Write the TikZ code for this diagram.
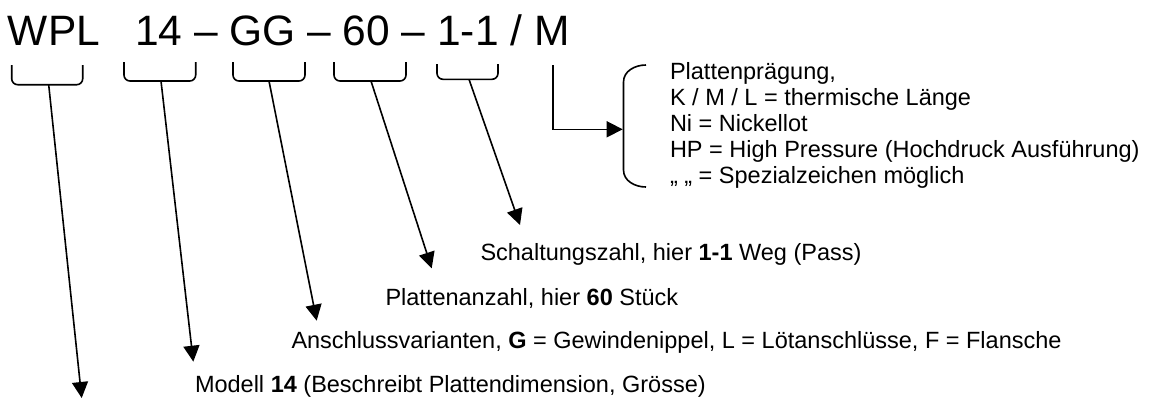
\documentclass[tikz,border=0pt]{standalone}
\usepackage{fontspec}
\setmainfont{Liberation Sans}
\usetikzlibrary{arrows.meta}
\begin{document}
\begin{tikzpicture}[x=1pt,y=-1pt,
  txt/.style={anchor=base west,inner sep=0pt,outer sep=0pt,font=\fontsize{23.5}{27}\selectfont},
  title/.style={anchor=base west,inner sep=0pt,outer sep=0pt,font=\fontsize{42.5}{48}\selectfont},
  brk/.style={line width=1.6pt,rounded corners=6pt},
  ln/.style={line width=1.6pt},
  arr/.style={line width=1.6pt,-{Triangle[length=16pt,width=16pt]}}]
\useasboundingbox (0,0) rectangle (1150,399);
% title
\node[title] (twpl) at (8,45) {WPL};
\node[title] (trest) at (135,45) {14 – GG – 60 – 1-1 / M};
% brackets
\draw[brk] (11.7,65) -- (11.7,84.7) -- (82.7,84.7) -- (82.7,65);
\draw[brk] (124,62) -- (124,81) -- (195.7,81) -- (195.7,62);
\draw[brk] (233,62) -- (233,81) -- (305,81) -- (305,62);
\draw[brk] (334,62) -- (334,81) -- (406,81) -- (406,62);
\draw[brk] (437,64) -- (437,79.3) -- (498,79.3) -- (498,64);
% bracket bottoms and arrow tips
\coordinate (bwpl) at (48.7,84.7);
\coordinate (b14) at (161,81);
\coordinate (bgg) at (269,81);
\coordinate (b60) at (371,81);
\coordinate (b11) at (469,79.3);
\coordinate (mtop) at (552.7,65);
\coordinate (mcor) at (552.7,129.3);
\coordinate (awpl) at (81.7,398);
\coordinate (a14) at (193.3,361.7);
\coordinate (agg) at (316.7,320.7);
\coordinate (a60) at (431.7,268.3);
\coordinate (a11) at (520,225);
\coordinate (am) at (622.7,129.3);
\draw[arr] (bwpl) -- (awpl);
\draw[arr] (b14) -- (a14);
\draw[arr] (bgg) -- (agg);
\draw[arr] (b60) -- (a60);
\draw[arr] (b11) -- (a11);
\draw[arr] (mtop) -- (mcor) -- (am);
% brace
\coordinate (btop) at (646,65);
\coordinate (bbot) at (646,187);
\draw[ln] (btop) to[out=180,in=90] (623.5,82) -- (623.5,170) to[out=-90,in=180] (bbot);
% right text
\node[txt] (r1) at (670,79) {Plattenprägung,};
\node[txt] (r2) at (670,105) {K / M / L = thermische Länge};
\node[txt] (r3) at (670,131) {Ni = Nickellot};
\node[txt] (r4) at (670,157) {HP = High Pressure (Hochdruck Ausführung)};
\node[txt] (r5) at (670,183) {„ „ = Spezialzeichen möglich};
% lower labels
\node[txt] (l1) at (480.5,260.7) {Schaltungszahl, hier \textbf{1-1} Weg (Pass)};
\node[txt] (l2) at (385.5,305) {Plattenanzahl, hier \textbf{60} Stück};
\node[txt] (l3) at (291.5,348.3) {Anschlussvarianten, \textbf{G} = Gewindenippel, L = Lötanschlüsse, F = Flansche};
\node[txt] (l4) at (195,392.7) {Modell \textbf{14} (Beschreibt Plattendimension, Grösse)};
\end{tikzpicture}
\end{document}
